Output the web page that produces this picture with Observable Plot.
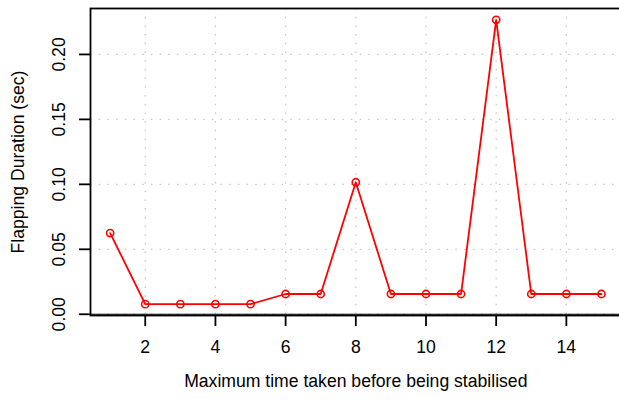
<!DOCTYPE html>
<html>
<head>
<meta charset="utf-8">
<script src="https://cdn.jsdelivr.net/npm/d3@7"></script>
<script src="https://cdn.jsdelivr.net/npm/@observablehq/plot@0.6"></script>
<style>
  html, body { margin: 0; padding: 0; background: white; overflow: hidden; }
</style>
</head>
<body>
<div id="chart"></div>
<script>
const xValues = [1, 2, 3, 4, 5, 6, 7, 8, 9, 10, 11, 12, 13, 14, 15];
const yValues = [0.0625, 0.0078, 0.0078, 0.0078, 0.0078, 0.0156, 0.0156, 0.1016, 0.0156, 0.0156, 0.0156, 0.2266, 0.0156, 0.0156, 0.0156];
const xTicks = [2, 4, 6, 8, 10, 12, 14];
const yTicks = [0, 0.05, 0.10, 0.15, 0.20];
const xTitle = "Maximum time taken before being stabilised";
const yTitle = "Flapping Duration (sec)";

const data = xValues.map((x, i) => ({x, y: yValues[i]}));

const FS = 17.6;
const gridStyle = {stroke: "#c8c8c8", strokeOpacity: 1, strokeWidth: 1.3, strokeDasharray: "1.5,7.2"};

const chart = Plot.plot({
  width: 619,
  height: 403,
  marginLeft: 90,
  marginRight: -1.6,
  marginTop: 8,
  marginBottom: 88,
  style: {fontFamily: "'Liberation Sans', Arial, Helvetica, sans-serif", fontSize: FS + "px", color: "black", background: "white", overflow: "hidden"},
  x: {domain: [0.44, 15.56], axis: null},
  y: {domain: [-0.00095, 0.23535], axis: null},
  marks: [
    Plot.gridX(xTicks, gridStyle),
    Plot.gridY(yTicks, gridStyle),
    Plot.ruleY([0], {stroke: "black", strokeWidth: 1.2}),
    Plot.frame({stroke: "black", strokeWidth: 1.8}),
    Plot.axisX(xTicks, {label: null, tickSize: 11, tickPadding: 14, strokeWidth: 1.8, fontSize: FS, fill: "black"}),
    Plot.axisY(yTicks, {label: null, tickSize: 11, strokeWidth: 1.8, tickFormat: () => ""}),
    Plot.text(yTicks, {y: d => d, text: d => d.toFixed(2), frameAnchor: "left", textAnchor: "middle", dx: -31, rotate: -90, fontSize: FS, fill: "black"}),
    Plot.text([xTitle], {frameAnchor: "bottom", textAnchor: "middle", dy: 71, fontSize: FS, fill: "black"}),
    Plot.text([yTitle], {frameAnchor: "left", textAnchor: "middle", dx: -72, rotate: -90, fontSize: FS, fill: "black"}),
    Plot.line(data, {x: "x", y: "y", stroke: "red", strokeWidth: 1.8}),
    Plot.dot(data, {x: "x", y: "y", r: 3.6, stroke: "red", strokeWidth: 1.6, fill: "none"})
  ]
});
document.getElementById("chart").appendChild(chart);
</script>
</body>
</html>
